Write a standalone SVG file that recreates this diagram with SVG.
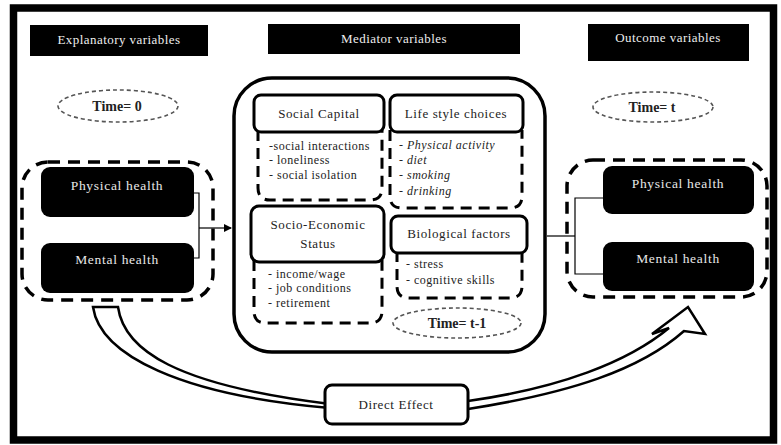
<svg xmlns="http://www.w3.org/2000/svg" width="781" height="445" viewBox="0 0 781 445">
<style>
text{font-family:"Liberation Serif","Times New Roman",serif;fill:#222;}
.hdr{fill:#000;}
.hdrt{fill:#eee;font-size:13px;letter-spacing:0.45px;text-anchor:middle;}
.blk{fill:#000;}
.blkt{fill:#e8e8e8;font-size:13.5px;letter-spacing:0.7px;text-anchor:middle;}
.time{fill:none;stroke:#555;stroke-width:1.6;stroke-dasharray:4,3;}
.timet{font-size:14px;font-weight:bold;text-anchor:middle;}
.grp{fill:none;stroke:#000;stroke-width:3.5;stroke-dasharray:12,8;}
.sub{fill:#fff;stroke:#000;stroke-width:3;}
.subt{font-size:13px;letter-spacing:0.6px;text-anchor:middle;}
.dash{fill:none;stroke:#000;stroke-width:3;stroke-dasharray:11,7;}
.item{font-size:12px;letter-spacing:0.5px;}
.it{font-style:italic;}
.conn{fill:none;stroke:#000;stroke-width:1.2;}
</style>
<defs>
<marker id="ah" markerWidth="8" markerHeight="8" refX="7" refY="4" orient="auto" markerUnits="userSpaceOnUse">
<path d="M0,0 L8,4 L0,8 z" fill="#000"/>
</marker>
</defs>
<rect x="0" y="0" width="781" height="445" fill="#fff"/>
<rect id="frame" x="13.5" y="8" width="760" height="432" fill="none" stroke="#000" stroke-width="7.5"/>

<g id="hdr-explanatory"><rect class="hdr" x="30" y="25" width="178" height="31"/><text class="hdrt" x="119" y="44">Explanatory variables</text></g>
<g id="hdr-mediator"><rect class="hdr" x="268" y="24" width="252" height="30"/><text class="hdrt" x="394" y="43">Mediator variables</text></g>
<g id="hdr-outcome"><rect class="hdr" x="588" y="24" width="161" height="37"/><text class="hdrt" x="668" y="42">Outcome variables</text></g>

<g id="time0"><ellipse class="time" cx="118" cy="106" rx="60" ry="16"/><text class="timet" x="117" y="111">Time= 0</text></g>
<g id="timet"><ellipse class="time" cx="653" cy="107" rx="60" ry="15"/><text class="timet" x="652" y="112">Time= t</text></g>

<g id="direct-arrow">
<path d="M93,307 L118,307 C124,350 175,385 330,404 L468,401 C560,388 628,362 669,328 L652,334 L688,307 L705,334 L684,331 C640,370 570,393 468,409 L330,408 C180,395 100,355 93,307 Z" fill="#fff" stroke="#000" stroke-width="2.5" stroke-linejoin="miter"/>
</g>

<g id="explanatory-group">
<rect class="grp" x="22" y="162" width="191" height="138" rx="26"/>
<g id="exp-physical"><rect class="blk" x="41" y="167" width="153" height="50" rx="9"/><text class="blkt" x="117" y="190">Physical health</text></g>
<g id="exp-mental"><rect class="blk" x="41" y="243" width="153" height="50" rx="9"/><text class="blkt" x="117" y="264">Mental health</text></g>
</g>

<g id="mediator-group">
<rect x="234" y="78" width="311" height="274" rx="38" fill="none" stroke="#000" stroke-width="3.5"/>
<g id="social-capital">
<path class="dash" d="M258,130 L258,188 Q258,200 270,200 L370,200 Q382,200 382,188 L382,130"/>
<rect class="sub" x="254" y="95" width="130" height="37" rx="7"/>
<text class="subt" x="319" y="118">Social Capital</text>
<text class="item" x="269" y="150">-social interactions</text>
<text class="item" x="269" y="164">- loneliness</text>
<text class="item" x="269" y="179">- social isolation</text>
</g>
<g id="lifestyle">
<path class="dash" d="M390,130 L390,196 Q390,208 402,208 L510,208 Q522,208 522,196 L522,130"/>
<rect class="sub" x="390" y="95" width="133" height="37" rx="7"/>
<text class="subt" x="456" y="118">Life style choices</text>
<text class="item it" x="399" y="149">- Physical activity</text>
<text class="item it" x="399" y="164">- diet</text>
<text class="item it" x="399" y="179">- smoking</text>
<text class="item it" x="399" y="195">- drinking</text>
</g>
<g id="ses">
<path class="dash" d="M254,260 L254,311 Q254,323 266,323 L370,323 Q382,323 382,311 L382,260"/>
<rect class="sub" x="251" y="206" width="133" height="56" rx="8"/>
<text class="subt" x="318" y="229">Socio-Economic</text>
<text class="subt" x="318" y="248">Status</text>
<text class="item" x="268" y="278">- income/wage</text>
<text class="item" x="268" y="292">- job conditions</text>
<text class="item" x="268" y="307">- retirement</text>
</g>
<g id="biological">
<path class="dash" d="M397,251 L397,286 Q397,298 409,298 L510,298 Q522,298 522,286 L522,251"/>
<rect class="sub" x="391" y="216" width="136" height="37" rx="7"/>
<text class="subt" x="459" y="238">Biological factors</text>
<text class="item" x="406" y="268">- stress</text>
<text class="item" x="406" y="284">- cognitive skills</text>
</g>
<g id="time-t1"><ellipse class="time" cx="457" cy="323" rx="64" ry="15"/><text class="timet" x="457" y="328">Time= t-1</text></g>
</g>

<g id="outcome-group">
<rect class="grp" x="567" y="160" width="200" height="137" rx="26"/>
<g id="out-physical"><rect class="blk" x="603" y="166" width="151" height="48" rx="9"/><text class="blkt" x="678" y="188">Physical health</text></g>
<g id="out-mental"><rect class="blk" x="603" y="242" width="151" height="49" rx="9"/><text class="blkt" x="678" y="263">Mental health</text></g>
</g>

<g id="direct-effect"><rect x="325" y="385" width="143" height="39" rx="7" fill="#fff" stroke="#000" stroke-width="3"/><text class="subt" x="396" y="409">Direct Effect</text></g>

<g id="connectors">
<path class="conn" d="M194,193 L199,193 L199,258 L194,258"/>
<path class="conn" d="M199,228 L231,228" marker-end="url(#ah)"/>
<path class="conn" d="M547,236 L575,236"/>
<path class="conn" d="M603,198 L575,198 L575,274 L603,274"/>
</g>
</svg>
